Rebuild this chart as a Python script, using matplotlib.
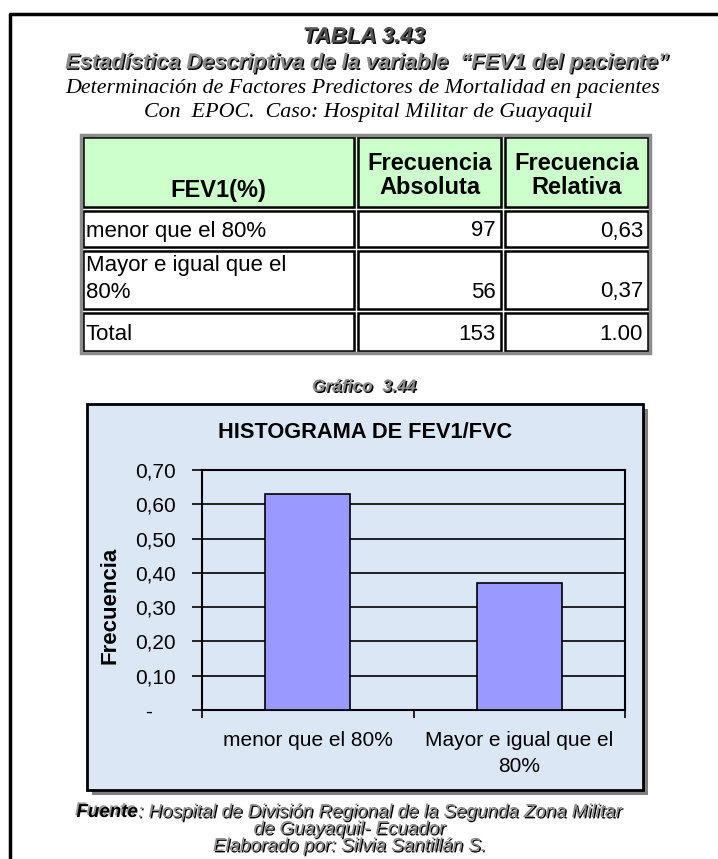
import matplotlib.pyplot as plt
import matplotlib.patheffects as pe
from matplotlib.patches import Rectangle
from matplotlib.ticker import FixedLocator

# frequency table for FEV1 (%)
fev_groups = ["menor que el 80%", "Mayor e igual que el\n80%"]
freq_abs = [97, 56]
freq_rel = [0.63, 0.37]
total_abs = 153
total_rel = "1.00"
y_ticks = [0.0, 0.1, 0.2, 0.3, 0.4, 0.5, 0.6, 0.7]

SANS = "Liberation Sans"
SERIF = "Liberation Serif"

fig = plt.figure(figsize=(7.18, 8.59), dpi=100)
page = fig.add_axes([0, 0, 1, 1])
page.set_xlim(0, 718)
page.set_ylim(859, 0)
page.axis("off")

# page frame
page.plot([10, 10, 718], [859, 14, 14], color="black", lw=2.5, solid_capstyle="butt")


def shaded(x, y, s, size, color="#8a8a8a", shadow="black", off=(1.0, -1.0), **kw):
    page.text(x, y, s, fontsize=size, color=color, family=SANS, style="italic",
              path_effects=[pe.withSimplePatchShadow(offset=off, shadow_rgbFace=shadow, alpha=1)],
              **kw)


# headings
shaded(364, 37, "TABLA 3.43", 16, color="#555555", weight="bold", ha="center", va="center")
shaded(366, 63, "Estadística Descriptiva de la variable  \u201cFEV1 del paciente\u201d", 15.7,
       weight="bold", ha="center", va="center")
page.text(363, 88, "Determinación de Factores Predictores de Mortalidad en pacientes",
          family=SERIF, style="italic", fontsize=15.8, ha="center", va="center")
page.text(368, 113, "Con  EPOC.  Caso: Hospital Militar de Guayaquil",
          family=SERIF, style="italic", fontsize=15.8, ha="center", va="center")

# table grid
col_x = [81, 356, 503, 650]
row_y = [135, 209, 249, 311, 353]
page.add_patch(Rectangle((col_x[0], row_y[0]), col_x[-1] - col_x[0], row_y[1] - row_y[0],
                         facecolor="#ccffcc", edgecolor="none"))
for r in range(4):
    for c in range(3):
        page.add_patch(Rectangle((col_x[c] + 2, row_y[r] + 2),
                                 col_x[c + 1] - col_x[c] - 4, row_y[r + 1] - row_y[r] - 4,
                                 facecolor="none", edgecolor="black", lw=1.8))
page.add_patch(Rectangle((col_x[0], row_y[0]), col_x[-1] - col_x[0], row_y[-1] - row_y[0],
                         facecolor="none", edgecolor="#8c8c8c", lw=2.5))

tsize = 16
hsize = 17
page.text((col_x[0] + col_x[1]) / 2, 190, "FEV1(%)", family=SANS, weight="bold",
          fontsize=hsize, ha="center", va="center")
for c, sub in [(1, "Absoluta"), (2, "Relativa")]:
    xc = (col_x[c] + col_x[c + 1]) / 2
    page.text(xc, 163, "Frecuencia", family=SANS, weight="bold", fontsize=hsize,
              ha="center", va="center")
    page.text(xc, 188, sub, family=SANS, weight="bold", fontsize=hsize,
              ha="center", va="center")

row_text_y = [231, 292, 334]
page.text(col_x[0] + 5, 231, fev_groups[0], family=SANS, fontsize=tsize, va="center")
page.text(col_x[0] + 5, 265, fev_groups[1].split("\n")[0], family=SANS, fontsize=tsize, va="center")
page.text(col_x[0] + 5, 292, fev_groups[1].split("\n")[1], family=SANS, fontsize=tsize, va="center")
page.text(col_x[0] + 5, 334, "Total", family=SANS, fontsize=tsize, va="center")
abs_col = [str(v) for v in freq_abs] + [str(total_abs)]
rel_col = [f"{v:.2f}".replace(".", ",") for v in freq_rel] + [total_rel]
for yy, a, rr in zip(row_text_y, abs_col, rel_col):
    page.text(col_x[2] - 7, yy, a, family=SANS, fontsize=tsize, ha="right", va="center")
    page.text(col_x[3] - 7, yy, rr, family=SANS, fontsize=tsize, ha="right", va="center")

# chart caption and frame
shaded(364, 387, "Gráfico  3.44", 12.5, weight="bold", ha="center", va="center")
page.add_patch(Rectangle((92, 409), 556, 386, facecolor="#808080", edgecolor="none"))
page.add_patch(Rectangle((87, 404), 556, 386, facecolor="#dbe7f5", edgecolor="black", lw=2))
page.text(365, 433, "HISTOGRAMA DE FEV1/FVC", family=SANS, weight="bold", fontsize=15.7,
          ha="center", va="center")
page.text(110, 605, "Frecuencia", family=SANS, weight="bold", fontsize=16,
          rotation=90, ha="center", va="center")

ax = fig.add_axes([202 / 718, 1 - 710 / 859, 423 / 718, 240 / 859])
ax.set_facecolor("none")
xpos = list(range(len(freq_rel)))
ax.bar(xpos, freq_rel, width=0.4, color="#9999ff", edgecolor="black", lw=1.2, zorder=3)
ax.set_xlim(-0.5, len(freq_rel) - 0.5)
ax.set_ylim(0, 0.7)
ax.set_yticks(y_ticks)
ax.set_yticklabels(["-    "] + [f"{t:.2f}".replace(".", ",") for t in y_ticks[1:]],
                   family=SANS, fontsize=15)
for t in y_ticks[1:]:
    ax.axhline(t, color="black", lw=1.2, zorder=1)
ax.xaxis.set_major_locator(FixedLocator([-0.5, 0.5, 1.5]))
ax.set_xticklabels([])
ax.xaxis.set_minor_locator(FixedLocator(xpos))
ax.set_xticklabels(fev_groups, minor=True, family=SANS, fontsize=15, linespacing=1.45)
ax.tick_params(axis="x", which="major", length=6, width=1.2, direction="out")
ax.tick_params(axis="x", which="minor", length=0, pad=15)
ax.tick_params(axis="y", length=7, width=1.2, pad=12)
for s in ax.spines.values():
    s.set_linewidth(1.5)

# source lines
shaded(138, 817, "Fuente", 13.5, color="black", shadow="#999999", off=(-1.2, 1.2),
       weight="bold", ha="right", va="baseline")
shaded(138, 817, ": Hospital de División Regional de la Segunda Zona Militar", 13.5,
       ha="left", va="baseline")
shaded(349, 834, "de Guayaquil- Ecuador", 13.5, ha="center", va="baseline")
shaded(349, 851, "Elaborado por: Silvia Santillán S.", 13.5, ha="center", va="baseline")

fig.savefig("out.png", dpi=100)
